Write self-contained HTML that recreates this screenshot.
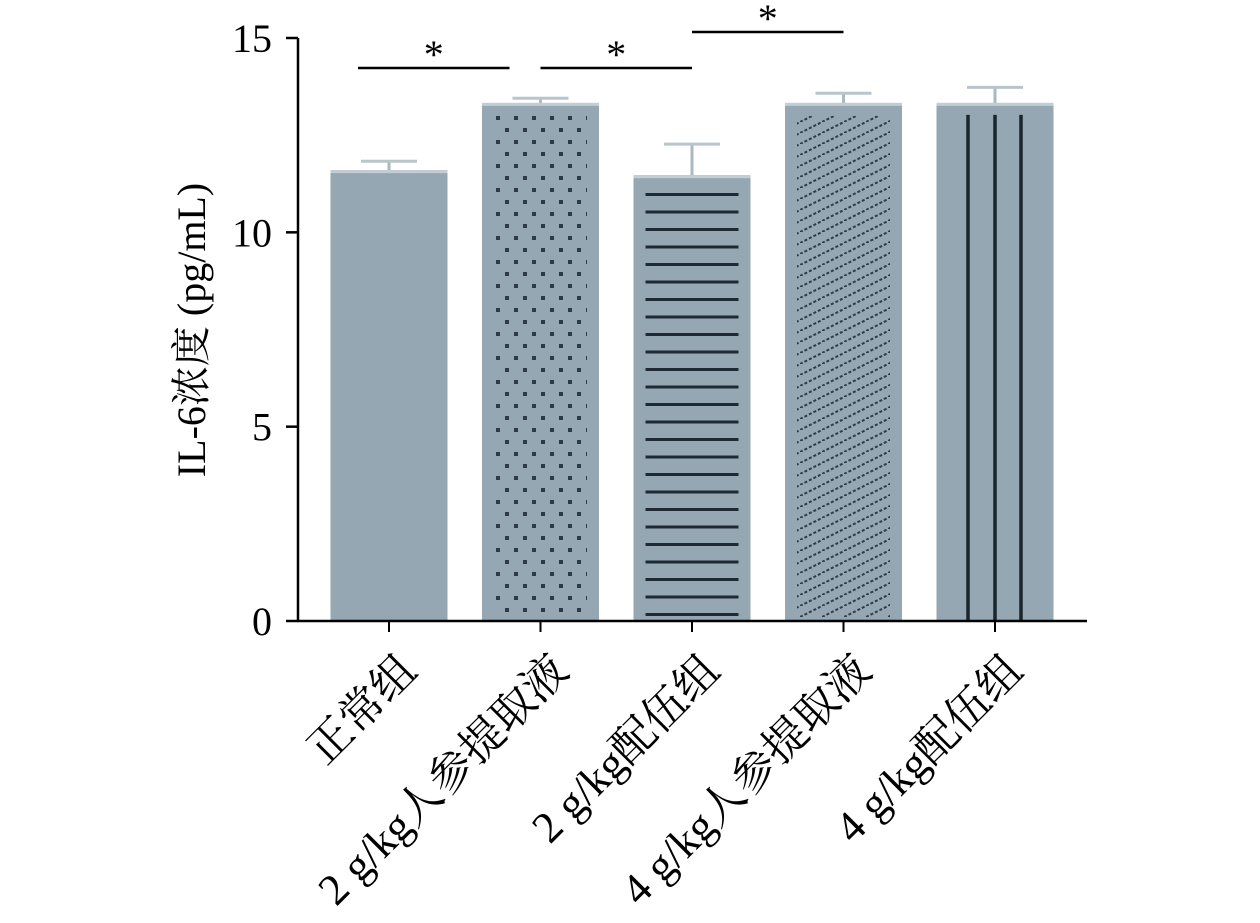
<!DOCTYPE html>
<html><head><meta charset="utf-8">
<style>
html,body{margin:0;padding:0;background:#fff;}
svg text{font-family:"Liberation Serif","Noto Serif CJK SC",serif;fill:#000;}
</style></head>
<body>
<svg id="chart" width="1260" height="918" viewBox="0 0 1260 918">
<defs>
<pattern id="dots" patternUnits="userSpaceOnUse" width="18" height="24" x="496" y="116">
<rect x="0" y="0" width="4" height="4" fill="#2b3a44"/>
<rect x="9" y="12" width="4" height="4" fill="#2b3a44"/>
</pattern>
<pattern id="hlines" patternUnits="userSpaceOnUse" width="20" height="17.5" x="0" y="193">
<rect x="0" y="0" width="20" height="3" fill="#1e2a33"/>
</pattern>
<pattern id="diag" patternUnits="userSpaceOnUse" width="22" height="11" x="800" y="100">
<line x1="0" y1="11" x2="22" y2="0" stroke="#2e3d47" stroke-width="2" stroke-dasharray="3 2"/>
</pattern>
</defs>
<g id="plot"></g>
<text transform="translate(205,330) rotate(-90)" text-anchor="middle" font-size="40">IL-6浓度 (pg/mL)</text>
</svg>
<script>
const categories = ["正常组","2 g/kg人参提取液","2 g/kg配伍组","4 g/kg人参提取液","4 g/kg配伍组"];
const values = [11.6, 13.33, 11.47, 13.33, 13.33];
const errors = [0.23, 0.12, 0.8, 0.25, 0.4];
const yTicks = [0, 5, 10, 15];
const sigPairs = [[0,1],[1,2],[2,3]];
const sigLevels = [68, 68, 32];

const NS = "http://www.w3.org/2000/svg";
const g = document.getElementById("plot");
const y0 = 621, yTop = 38, yMax = 15;
const yScale = v => y0 - (v / yMax) * (y0 - yTop);
const xCenter = i => 389 + i * 151.5;
const barW = 117;
function mk(tag, attrs, parent) {
  const e = document.createElementNS(NS, tag);
  for (const k in attrs) e.setAttribute(k, attrs[k]);
  (parent || g).appendChild(e);
  return e;
}
const fills = [null, "url(#dots)", "url(#hlines)", "url(#diag)", null];
categories.forEach((c, i) => {
  const cx = xCenter(i), top = yScale(values[i]), eTop = yScale(values[i] + errors[i]);
  const eb = mk("line", {x1: cx, x2: cx, y1: eTop, y2: top, stroke: "#a9b9c0", "stroke-width": 3});
  
  
  const cap = mk("line", {x1: cx - 28, x2: cx + 28, y1: eTop, y2: eTop, stroke: "#b8c6cc", "stroke-width": 3});
  
  
  const r = mk("rect", {x: cx - barW / 2, y: top, width: barW, height: y0 - top, fill: "#94a7b2"});
  
  
  mk("rect", {x: cx - barW / 2, y: top, width: barW, height: 3, fill: "#c2ced3"});
  if (fills[i]) {
    const inset = 12;
    const p = mk("rect", {x: cx - barW / 2 + inset, y: top + 13, width: barW - 2 * inset, height: y0 - top - 13 - 4, fill: fills[i]});
    
    
  }
  if (i === 4) {
    [-27, 0, 26].forEach(dx => {
      const l = mk("line", {x1: cx + dx, x2: cx + dx, y1: top + 12, y2: y0, stroke: "#1b252c", "stroke-width": 3.5});
      
      
    });
  }
  const t = mk("line", {x1: cx, x2: cx, y1: y0, y2: y0 + 11, stroke: "#000", "stroke-width": 2});
  
  
  const lb = mk("text", {x: 0, y: 0, "font-size": 44, "text-anchor": "end", transform: `translate(${cx + 30},${y0 + 52}) rotate(-45)`});
  lb.textContent = c;
  
  
});
const ya = mk("line", {x1: 298, x2: 298, y1: yTop, y2: y0, stroke: "#000", "stroke-width": 2.5});


const xa = mk("line", {x1: 297, x2: 1087, y1: y0, y2: y0, stroke: "#000", "stroke-width": 2.5});


yTicks.forEach(v => {
  const y = yScale(v);
  const t = mk("line", {x1: 286, x2: 298, y1: y, y2: y, stroke: "#000", "stroke-width": 2.5});
  
  
  const l = mk("text", {x: 272, y: y + 14, "font-size": 40, "text-anchor": "end"});
  l.textContent = v;
  
  
});
sigPairs.forEach((p, k) => {
  const x1 = xCenter(p[0]) + (k === 0 ? -31 : 0), x2 = xCenter(p[1]) + (k === 0 ? -31 : 0);
  const y = sigLevels[k];
  const l = mk("line", {x1: x1, x2: x2, y1: y, y2: y, stroke: "#000", "stroke-width": 2.5});
  
  
  const s = mk("text", {x: (x1 + x2) / 2, y: y, "font-size": 40, "text-anchor": "middle"});
  s.textContent = "*";
  
  
});
</script>
</body></html>
